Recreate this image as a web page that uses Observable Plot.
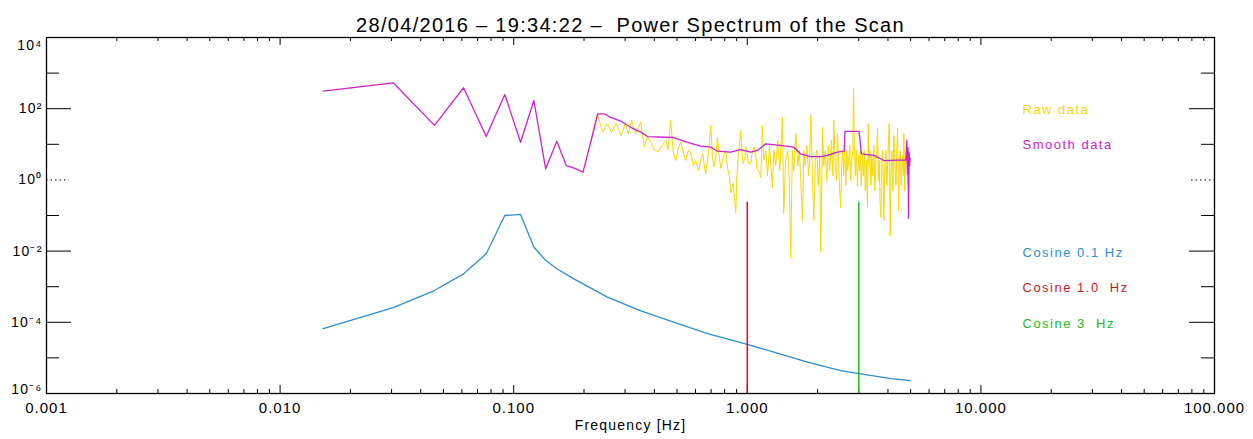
<!DOCTYPE html>
<html><head><meta charset="utf-8">
<script src="https://cdn.jsdelivr.net/npm/d3@7"></script>
<script src="https://cdn.jsdelivr.net/npm/@observablehq/plot@0.6"></script>
<style>
body{margin:0;background:#fff;}
svg text{white-space:pre;}
g[font-size="20"]{letter-spacing:1.3px;}
g[font-size="15"]{letter-spacing:1px;}
g[font-size="14"]{letter-spacing:1.2px;}
g[font-size="13"]{letter-spacing:1.5px;}
</style></head><body><div id="chart"></div>
<script>
const titleText = "28/04/2016 \u2013 19:34:22 \u2013  Power Spectrum of the Scan";
const xLabelText = "Frequency [Hz]";

// Axis ticks and labels
const xMajorTicks = [0.001, 0.01, 0.1, 1, 10, 100];
const xTickLabels = ["0.001", "0.010", "0.100", "1.000", "10.000", "100.000"];
const yMajorTicks = [1e-6, 1e-4, 1e-2, 1, 1e2, 1e4];
const yTickLabels = ["10\u207B\u2076", "10\u207B\u2074", "10\u207B\u00B2", "10\u2070", "10\u00B2", "10\u2074"];
const yMinorTicks = [1e-5, 1e-3, 1e-1, 1e1, 1e3];

// Legend
const legendLabels = ["Raw data", "Smooth data", "Cosine 0.1 Hz", "Cosine 1.0  Hz", "Cosine 3  Hz"];
const legendColors = ["#fad800", "#cc22cc", "#2b8fd3", "#cc1a1a", "#22bb22"];

// Series: [frequency Hz, power]
const smoothData = [
[0.0153,310],[0.0305,535],[0.0458,34],[0.061,388],[0.0763,16.5],[0.0916,250],[0.107,11.4],[0.122,170],
[0.137,2.05],[0.153,12.2],[0.168,2.5],[0.183,2.1],[0.198,1.65],[0.214,12],[0.229,72],[0.244,72],
[0.26,57],[0.287,45],[0.317,30],[0.35,22],[0.374,16.5],[0.484,15.5],[0.555,11.4],[0.632,8.9],
[0.698,8.3],[0.745,6.4],[0.85,6.0],[0.938,7.1],[1.035,6.0],[1.106,6.7],[1.2,10.3],[1.39,9.3],
[1.585,8.3],[1.69,5.4],[1.87,4.5],[2.06,4.5],[2.2,4.9],[2.43,6.0],[2.6,6.4],[2.62,23],[3.01,23],
[3.08,5.4],[3.49,4.9],[3.85,3.5],[4.4,3.6],[4.77,3.6],[4.82,13],[4.85,1.5],[4.88,8],[4.9,0.083],
[4.93,6],[4.95,2.5],[4.98,4]
];

const rawData = [
[0.214,12],[0.229,70],[0.240,22],[0.252,38],[0.262,22],[0.275,38],[0.288,17.7],[0.300,38],[0.310,20],
[0.320,47],[0.333,20],[0.350,42],[0.362,8.5],[0.374,16],[0.386,11.5],[0.400,7],[0.415,6],[0.430,9],
[0.448,12.8],[0.458,7],[0.470,47],[0.482,6],[0.494,3.5],[0.507,8],[0.519,11.5],[0.532,6],[0.545,3.5],
[0.560,7],[0.573,5.5],[0.587,2.5],[0.601,3.5],[0.620,1.8],[0.633,4],[0.645,5.5],[0.655,2.5],[0.664,1.5],
[0.680,5],[0.698,34],[0.710,4],[0.720,2.3],[0.733,5],[0.745,16],[0.760,4],[0.771,2.1],[0.790,4.5],
[0.809,6.7],[0.825,2],[0.840,1.2],[0.849,0.43],[0.870,0.8],[0.893,0.12],[0.900,0.96],[0.915,5],
[0.938,24.5],[0.950,5],[0.960,2.9],[0.975,4],[0.990,8.5],[1.010,3],[1.035,2.9],[1.050,6],[1.070,8.5],
[1.090,4],[1.100,2],[1.12,1.8],[1.142,1.17],[1.16,34],[1.175,3.5],[1.2,6.7],[1.22,1.3],[1.245,9.3],
[1.281,0.61],[1.298,6.7],[1.324,2.5],[1.35,12.8],[1.377,1.8],[1.414,57],[1.432,0.114],[1.46,3.5],
[1.49,6.7],[1.51,1.3],[1.535,0.0062],[1.558,6.7],[1.58,1.8],[1.614,20],[1.646,2.5],[1.67,6.7],
[1.694,0.96],[1.723,0.072],[1.746,6.7],[1.77,2.5],[1.80,9.3],[1.83,1.3],[1.852,4.9],[1.87,65],
[1.898,1.8],[1.926,0.072],[1.955,3.5],[1.983,6.7],[2.013,0.70],[2.043,4.9],[2.063,0.0091],[2.1,30],
[2.125,2.5],[2.157,6.7],[2.19,0.96],[2.22,9.3],[2.254,1.8],[2.29,12.8],[2.323,1.3],[2.346,47],
[2.38,2.5],[2.415,0.96],[2.43,20],[2.46,3.5],[2.485,0.5],[2.51,0.168],[2.535,2.5],[2.56,6.7],
[2.585,1.3],[2.61,12.8],[2.64,0.70],[2.665,6.7],[2.69,1.8],[2.717,3.5],[2.744,9.3],[2.77,0.96],
[2.8,3.5],[2.83,6.7],[2.85,369],[2.87,12.8],[2.9,1.3],[2.93,6.7],[2.96,0.70],[2.99,4.9],[3.02,1.8],
[3.05,6.7],[3.075,0.70],[3.11,4.9],[3.14,1.3],[3.17,6.7],[3.2,0.5],[3.235,3.5],[3.27,0.168],
[3.295,38],[3.31,2.5],[3.35,6.7],[3.38,0.70],[3.41,4.9],[3.45,1.3],[3.48,9.3],[3.515,0.5],[3.55,3.5],
[3.585,6.7],[3.61,28],[3.64,0.96],[3.67,3.5],[3.70,0.26],[3.73,0.088],[3.77,3.5],[3.8,6.7],
[3.84,0.072],[3.88,2.5],[3.92,6.7],[3.96,0.70],[4.0,4.9],[4.05,38],[4.09,0.027],[4.12,1.3],[4.16,6.7],
[4.2,0.5],[4.24,17.7],[4.29,2.5],[4.33,0.70],[4.37,6.7],[4.4,28],[4.44,0.14],[4.48,3.5],[4.52,6.7],
[4.56,0.70],[4.61,4.9],[4.66,1.3],[4.68,20],[4.72,0.5],[4.77,3.5],[4.82,6.7],[4.87,0.70],[4.92,4.9]
];

const cosine01Data = [
[0.0153,6.6e-5],[0.0305,2.6e-4],[0.0458,7.8e-4],[0.061,2.3e-3],[0.0763,8.4e-3],[0.0916,0.10],
[0.107,0.107],[0.122,0.013],[0.137,5.5e-3],[0.153,3.2e-3],[0.181,1.66e-3],[0.252,5.1e-4],
[0.35,2.1e-4],[0.487,1.0e-4],[0.676,4.8e-5],[1.0,2.4e-5],[1.30,1.45e-5],[1.81,7.6e-6],
[2.51,4.4e-6],[3.01,3.6e-6],[4.12,2.6e-6],[4.98,2.3e-6]
];
const cosine1Data = [[1.0, 0.235]];
const cosine3Data = [[3.0, 0.235]];

const xDomain = [0.001, 100];
const yDomain = [1e-6, 1e4];

const W = 1253, H = 439, mL = 46, mR = 39, mT = 37, mB = 46;
const plotW = W - mL - mR, plotH = H - mT - mB;

const xMinorTicks = [];
for (const d of [0.001, 0.01, 0.1, 1, 10]) for (let k = 2; k <= 9; k++) xMinorTicks.push(d * k);

const yMajorNoOne = yMajorTicks.filter(v => v !== 1);
const yLab = yMajorTicks.map((v, i) => ({v, label: yTickLabels[i]}));
const xLab = xMajorTicks.map((v, i) => ({v, label: xTickLabels[i]}));
const font = "Liberation Sans, Arial, Helvetica, sans-serif";

const legendDy = [67, 102, 210, 245, 281];

const chart = Plot.plot({
  width: W, height: H,
  marginLeft: mL, marginRight: mR, marginTop: mT, marginBottom: mB,
  style: {fontFamily: font, background: "#fff", overflow: "visible"},
  x: {type: "log", domain: xDomain, axis: null},
  y: {type: "log", domain: yDomain, axis: null},
  marks: [
    // ticks
    Plot.tickY(yMajorNoOne, {y: d => d, insetRight: plotW - 25, stroke: "#000"}),
    Plot.tickY(yMajorNoOne, {y: d => d, insetLeft: plotW - 25, stroke: "#000"}),
    Plot.tickY(yMinorTicks, {y: d => d, insetRight: plotW - 13, stroke: "#000"}),
    Plot.tickY(yMinorTicks, {y: d => d, insetLeft: plotW - 13, stroke: "#000"}),
    Plot.tickY([1], {y: d => d, insetRight: plotW - 23, stroke: "#000", strokeDasharray: "1.5,3"}),
    Plot.tickY([1], {y: d => d, insetLeft: plotW - 23, stroke: "#000", strokeDasharray: "1.5,3"}),
    Plot.tickX(xMajorTicks, {x: d => d, insetTop: plotH - 8, stroke: "#000"}),
    Plot.tickX(xMajorTicks, {x: d => d, insetBottom: plotH - 8, stroke: "#000"}),
    Plot.tickX(xMinorTicks, {x: d => d, insetTop: plotH - 4, stroke: "#000"}),
    Plot.tickX(xMinorTicks, {x: d => d, insetBottom: plotH - 4, stroke: "#000"}),
    // data
    Plot.line(rawData, {x: d => d[0], y: d => d[1], stroke: legendColors[0], strokeWidth: 1}),
    Plot.line(smoothData, {x: d => d[0], y: d => d[1], stroke: legendColors[1], strokeWidth: 1.3}),
    Plot.line(cosine01Data, {x: d => d[0], y: d => d[1], stroke: legendColors[2], strokeWidth: 1.3}),
    Plot.ruleX(cosine1Data, {x: d => d[0], y1: yDomain[0], y2: d => d[1], stroke: legendColors[3], strokeWidth: 1.6}),
    Plot.ruleX(cosine3Data, {x: d => d[0], y1: yDomain[0], y2: d => d[1], stroke: legendColors[4], strokeWidth: 1.6}),
    Plot.frame({stroke: "#000", strokeWidth: 1.3}),
    // tick labels
    Plot.text(yLab.slice(1, 5), {frameAnchor: "left", y: "v", text: "label", textAnchor: "end", dx: -4, fontSize: 14, fill: "#000"}),
    Plot.text(yLab.slice(5), {frameAnchor: "left", y: "v", text: "label", textAnchor: "end", dx: -4, dy: 8, fontSize: 14, fill: "#000"}),
    Plot.text(yLab.slice(0, 1), {frameAnchor: "left", y: "v", text: "label", textAnchor: "end", dx: -4, dy: -4, fontSize: 14, fill: "#000"}),
    Plot.text(xLab, {frameAnchor: "bottom", x: "v", text: "label", dy: 19, fontSize: 15, fill: "#000"}),
    Plot.text([xLabelText], {frameAnchor: "bottom", text: d => d, dy: 36, fontSize: 14, fill: "#000"}),
    Plot.text([titleText], {frameAnchor: "top", text: d => d, lineAnchor: "bottom", dy: -6, fontSize: 20, fill: "#000"}),
    // legend
    ...legendLabels.map((t, i) => Plot.text([t], {frameAnchor: "top-right", text: d => d, textAnchor: "start", dx: -192, dy: legendDy[i], fontSize: 13, fill: legendColors[i]}))
  ]
});
document.getElementById("chart").appendChild(chart);
</script></body></html>
